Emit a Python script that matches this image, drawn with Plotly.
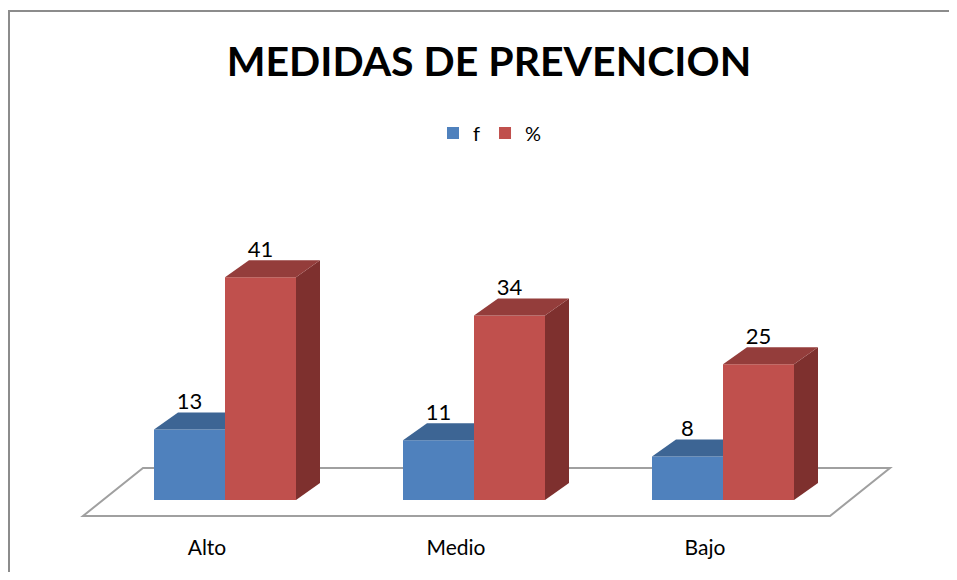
import plotly.graph_objects as go

categories = ["Alto", "Medio", "Bajo"]
f_values = [13, 11, 8]
pct_values = [41, 34, 25]
series_names = ["f", "%"]

# colours: front, top, side
BLUE = ("#4F81BD", "#3D6594", "#345683")
RED = ("#C0504D", "#943D3B", "#7E302E")

# page body has an 8px margin, so the figure is a bit smaller than the window
PAGE = 8
W, H = 957 - 2 * PAGE, 580 - 2 * PAGE
PX_CAT = 249.0      # pixels between categories
PX_UNIT = 5.43      # pixels per value unit
X0_PX, Y0_PX = 225.0 - PAGE, 500.0 - PAGE

bar_w = 71 / PX_CAT
dx = 24 / PX_CAT
dy = 17 / PX_UNIT

xs = list(range(len(categories)))

fig = go.Figure()

# floor of the 3d plot (behind everything)
fl_front = -16 / PX_UNIT
fl_back = 32 / PX_UNIT
fl_left = -142 / PX_CAT
fl_right = 605 / PX_CAT
fl_shift = 60 / PX_CAT
floor_path = "M {} {} L {} {} L {} {} L {} {} Z".format(
    fl_left, fl_front, fl_right, fl_front,
    fl_right + fl_shift, fl_back, fl_left + fl_shift, fl_back)
fig.add_shape(type="path", path=floor_path, xref="x", yref="y", layer="below",
              fillcolor="white", line=dict(color="#A0A0A0", width=2))


def add_faces(values, offset, cols, side=True):
    for x, v in zip(xs, values):
        left = x + offset
        right = left + bar_w
        if side:
            fig.add_trace(go.Scatter(
                x=[right, right + dx, right + dx, right, right],
                y=[0, dy, v + dy, v, 0],
                mode="lines", fill="toself", fillcolor=cols[2],
                line=dict(width=0, color=cols[2]), showlegend=False, hoverinfo="skip"))
            top_x = [left, right, right + dx, left + dx, left]
        else:
            # right part of the top is hidden by the taller bar in front of it
            top_x = [left, right, right, left + dx, left]
        fig.add_trace(go.Scatter(
            x=top_x,
            y=[v, v, v + dy, v + dy, v],
            mode="lines", fill="toself", fillcolor=cols[1],
            line=dict(width=0, color=cols[1]), showlegend=False, hoverinfo="skip"))


def add_labels(values, offset):
    fig.add_trace(go.Scatter(
        x=[x + offset + bar_w / 2 for x in xs],
        y=[v + dy + 9 / PX_UNIT for v in values],
        mode="text", text=[str(v) for v in values], textposition="middle center",
        textfont=dict(size=22, color="black", family="Lato"),
        showlegend=False, hoverinfo="skip"))


# front faces
fig.add_trace(go.Bar(x=xs, y=f_values, width=bar_w, offset=-bar_w, base=0,
                     marker=dict(color=BLUE[0], line=dict(width=0)), name=series_names[0]))
fig.add_trace(go.Bar(x=xs, y=pct_values, width=bar_w, offset=0, base=0,
                     marker=dict(color=RED[0], line=dict(width=0)), name=series_names[1]))

add_faces(f_values, -bar_w, BLUE, side=False)
add_faces(pct_values, 0, RED)
add_labels(f_values, -bar_w)
add_labels(pct_values, 0)

# category labels
fig.add_trace(go.Scatter(
    x=[x - 18 / PX_CAT for x in xs], y=[-50 / PX_UNIT] * len(xs),
    mode="text", text=categories, textposition="middle center",
    textfont=dict(size=21, color="black", family="Lato"),
    showlegend=False, hoverinfo="skip"))

# chart border
fig.add_shape(type="rect", xref="paper", yref="paper",
              x0=1 / W, x1=1.05, y0=-0.05, y1=1 - 3 / H,
              line=dict(color="#8C8C8C", width=2))

fig.update_layout(
    width=W, height=H,
    margin=dict(l=0, r=0, t=0, b=0),
    paper_bgcolor="white", plot_bgcolor="white",
    barmode="overlay",
    title=dict(text="<b>MEDIDAS DE PREVENCION</b>", x=(489 - PAGE) / W, xanchor="center",
               y=1 - (62 - PAGE) / H, yanchor="middle",
               font=dict(size=41, color="black", family="Lato")),
    legend=dict(orientation="h", x=(490 - PAGE) / W, xanchor="center",
                y=1 - (133 - PAGE) / H, yanchor="middle",
                font=dict(size=20, color="black", family="Lato"),
                traceorder="normal", itemwidth=30, bgcolor="rgba(0,0,0,0)"),
    xaxis=dict(range=[-X0_PX / PX_CAT, (W - X0_PX) / PX_CAT], visible=False,
               fixedrange=True),
    yaxis=dict(range=[-(H - Y0_PX) / PX_UNIT, Y0_PX / PX_UNIT], visible=False,
               fixedrange=True),
    showlegend=True,
)

fig.write_html("out.html")
